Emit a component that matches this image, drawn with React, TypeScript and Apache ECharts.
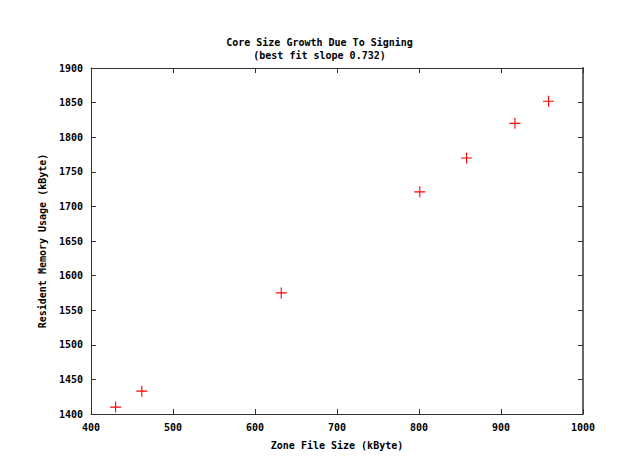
import React, { useEffect, useRef } from "react";
import * as echarts from "echarts";

const zoneSizes = [430, 462, 632, 801, 858, 917, 958];
const memoryUsage = [1410, 1433, 1575, 1721, 1770, 1820, 1852];
const titleText = "Core Size Growth Due To Signing";
const subtitleText = "(best fit slope 0.732)";
const xName = "Zone File Size (kByte)";
const yName = "Resident Memory Usage (kByte)";

const FONT = "DejaVu Sans Mono";
const PLUS = "path://M4.5,0 H5.5 V4.5 H10 V5.5 H5.5 V10 H4.5 V5.5 H0 V4.5 H4.5 Z";

export default function App() {
  const ref = useRef<HTMLDivElement>(null);
  useEffect(() => {
    if (!ref.current) return;
    const chart = echarts.init(ref.current, null, { renderer: "svg" });
    const lineStyle = { color: "#333", width: 1 };
    const label = { fontFamily: FONT, fontSize: 10, fontWeight: "bold" as const, color: "#000" };
    const fmt = (v: number) => String(v);
    chart.setOption({
      animation: false,
      backgroundColor: "#fff",
      title: {
        text: titleText,
        subtext: subtitleText,
        left: "center",
        top: 31,
        itemGap: 1,
        textStyle: { ...label, lineHeight: 12 },
        subtextStyle: { ...label, lineHeight: 12 },
      },
      grid: { left: 91, right: 56, top: 68, bottom: 54 },
      xAxis: [
        {
          type: "value",
          min: 400,
          max: 1000,
          interval: 100,
          position: "bottom",
          name: xName,
          nameLocation: "middle",
          nameGap: 26,
          nameTextStyle: label,
          axisLine: { show: true, lineStyle },
          axisTick: { show: true, inside: true, length: 5, lineStyle },
          axisLabel: { ...label, margin: 8, formatter: fmt },
          splitLine: { show: false },
        },
        {
          type: "value",
          min: 400,
          max: 1000,
          interval: 100,
          position: "top",
          axisLine: { show: true, lineStyle },
          axisTick: { show: true, inside: true, length: 5, lineStyle },
          axisLabel: { show: false },
          splitLine: { show: false },
        },
      ],
      yAxis: [
        {
          type: "value",
          min: 1400,
          max: 1900,
          interval: 50,
          position: "left",
          name: yName,
          nameLocation: "middle",
          nameGap: 44,
          nameTextStyle: label,
          axisLine: { show: true, lineStyle },
          axisTick: { show: true, inside: true, length: 5, lineStyle },
          axisLabel: { ...label, margin: 8, formatter: fmt },
          splitLine: { show: false },
        },
        {
          type: "value",
          min: 1400,
          max: 1900,
          interval: 50,
          position: "right",
          axisLine: { show: true, lineStyle: { color: "#666", width: 2 } },
          axisTick: { show: true, inside: true, length: 5, lineStyle },
          axisLabel: { show: false },
          splitLine: { show: false },
        },
      ],
      series: [
        {
          type: "scatter",
          xAxisIndex: 0,
          yAxisIndex: 0,
          symbol: PLUS,
          symbolSize: 11,
          itemStyle: { color: "#ff0000", opacity: 1 },
          data: zoneSizes.map((x, i) => [x, memoryUsage[i]]),
        },
      ],
    });
    return () => chart.dispose();
  }, []);
  return (
    <div
      ref={ref}
      style={{ position: "fixed", left: 0, top: 0, width: 639, height: 468 }}
    />
  );
}
